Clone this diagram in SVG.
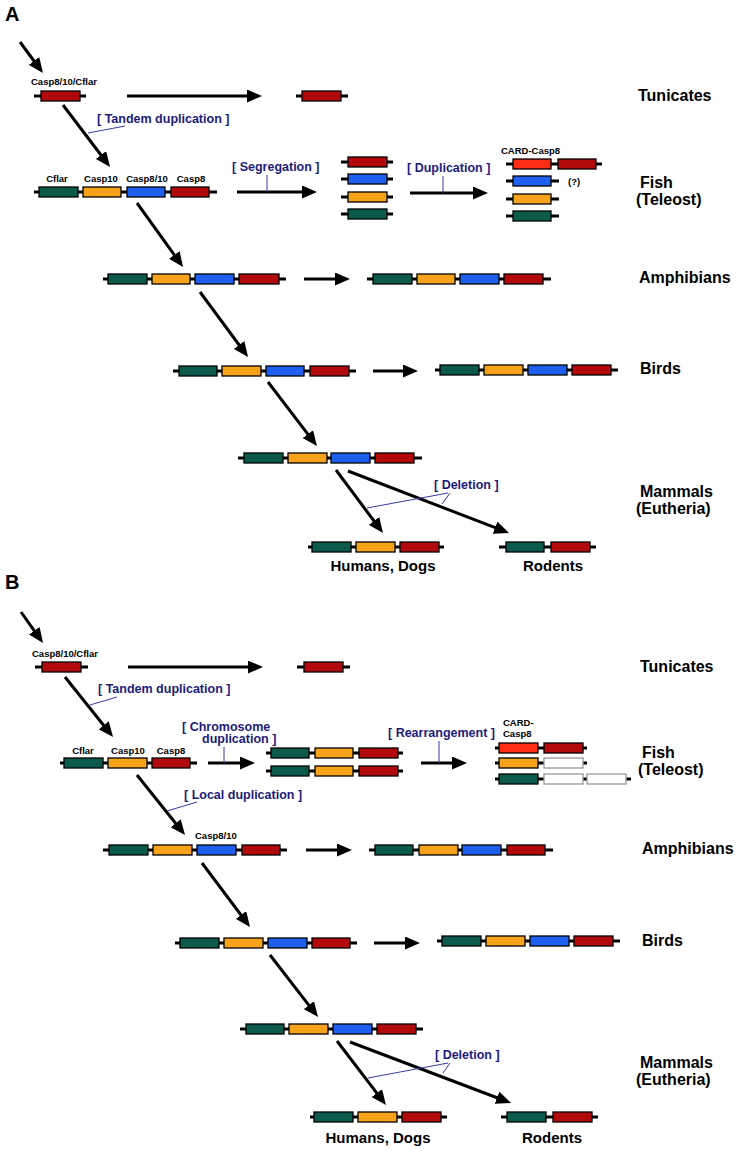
<svg xmlns="http://www.w3.org/2000/svg" width="739" height="1151" viewBox="0 0 739 1151">
<style>
text{font-family:"Liberation Sans",Arial,sans-serif;font-weight:bold;fill:#000}
.pl{font-size:20px}
.sp{font-size:16px}
.bt{font-size:15px;text-anchor:middle}
.gl{font-size:9.5px}
.gm{font-size:9.5px;text-anchor:middle}
.bl{font-size:12.5px;fill:#1c1c7c}
.ln{stroke:#000;stroke-width:3}
.bx rect{stroke:#000;stroke-width:1.3}
.g{fill:#0b5a4c}.o{fill:#f7a21b}.b{fill:#1f5fef}.r{fill:#b20a0a}.c{fill:#ff2d14}
.bx rect.w{fill:#fff;stroke:#999}
.ar{stroke:#000;stroke-width:3;fill:none;marker-end:url(#ah)}
.ld{stroke:#3a3aa8;stroke-width:1;fill:none}
</style>
<defs>
<marker id="ah" markerUnits="userSpaceOnUse" markerWidth="16" markerHeight="13" refX="5" refY="6.5" orient="auto">
<path d="M0,0 L15,6.5 L0,13 z" fill="#000"/>
</marker>
</defs>

<text class="pl" x="5" y="21">A</text>
<text class="pl" x="5" y="589">B</text>

<g id="labels">
<text class="sp" x="638" y="101">Tunicates</text>
<text class="sp" x="640" y="188">Fish</text>
<text class="sp" x="636" y="205">(Teleost)</text>
<text class="sp" x="639" y="283">Amphibians</text>
<text class="sp" x="640" y="374">Birds</text>
<text class="sp" x="640" y="497">Mammals</text>
<text class="sp" x="636" y="514">(Eutheria)</text>
<text class="sp" x="640" y="672">Tunicates</text>
<text class="sp" x="642" y="758">Fish</text>
<text class="sp" x="638" y="775">(Teleost)</text>
<text class="sp" x="642" y="854">Amphibians</text>
<text class="sp" x="642" y="946">Birds</text>
<text class="sp" x="640" y="1068">Mammals</text>
<text class="sp" x="636" y="1085">(Eutheria)</text>
</g>

<g id="connectors">
<line class="ar" x1="20" y1="42" x2="37" y2="65"/>
<line class="ar" x1="127" y1="96" x2="252" y2="96"/>
<line class="ar" x1="63" y1="105" x2="104" y2="159"/>
<line class="ar" x1="237" y1="192" x2="307" y2="192"/>
<line class="ar" x1="410" y1="193" x2="478" y2="193"/>
<line class="ar" x1="137" y1="203" x2="177.2" y2="258.9"/>
<line class="ar" x1="304" y1="279" x2="340" y2="279"/>
<line class="ar" x1="200" y1="292" x2="242.1" y2="349"/>
<line class="ar" x1="373" y1="371" x2="408" y2="371"/>
<line class="ar" x1="268" y1="382" x2="310.9" y2="438.1"/>
<line class="ar" x1="336" y1="470" x2="377" y2="525"/>
<line class="ar" x1="348" y1="471" x2="499.7" y2="529.4"/>

<line class="ar" x1="21" y1="612" x2="37.2" y2="634.8"/>
<line class="ar" x1="128" y1="667" x2="253" y2="667"/>
<line class="ar" x1="65" y1="677" x2="106.8" y2="729.2"/>
<line class="ar" x1="208" y1="763" x2="245" y2="763"/>
<line class="ar" x1="421" y1="763" x2="457" y2="763"/>
<line class="ar" x1="137" y1="775" x2="178.8" y2="827.2"/>
<line class="ar" x1="306" y1="850" x2="342" y2="850"/>
<line class="ar" x1="202" y1="863" x2="244" y2="919"/>
<line class="ar" x1="374" y1="943" x2="410" y2="943"/>
<line class="ar" x1="270" y1="955" x2="311.9" y2="1009.1"/>
<line class="ar" x1="337" y1="1041" x2="379.9" y2="1097.1"/>
<line class="ar" x1="350" y1="1042" x2="501.7" y2="1099.5"/>

<line class="ld" x1="88" y1="133" x2="125" y2="126"/>
<line class="ld" x1="267" y1="175" x2="267" y2="192"/>
<line class="ld" x1="443" y1="176" x2="443" y2="193"/>
<line class="ld" x1="367" y1="508" x2="448" y2="493"/>
<line class="ld" x1="442" y1="504" x2="450" y2="493"/>

<line class="ld" x1="90" y1="705" x2="117" y2="697"/>
<line class="ld" x1="224" y1="747" x2="224" y2="763"/>
<line class="ld" x1="439" y1="741" x2="439" y2="763"/>
<line class="ld" x1="167" y1="811" x2="197" y2="802"/>
<line class="ld" x1="368" y1="1078" x2="448" y2="1063"/>
<line class="ld" x1="443" y1="1073" x2="450" y2="1063"/>
</g>

<g id="annotations">
<text class="bl" x="97" y="123">[ Tandem duplication ]</text>
<text class="bl" x="232" y="171">[ Segregation ]</text>
<text class="bl" x="407" y="172">[ Duplication ]</text>
<text class="bl" x="434" y="489">[ Deletion ]</text>
<text class="bl" x="98" y="693">[ Tandem duplication ]</text>
<text class="bl" x="182" y="731">[ Chromosome</text>
<text class="bl" x="202" y="743">duplication ]</text>
<text class="bl" x="388" y="737">[ Rearrangement ]</text>
<text class="bl" x="184" y="799">[ Local duplication ]</text>
<text class="bl" x="435" y="1059">[ Deletion ]</text>
</g>

<!-- Panel A -->
<g id="A-tun-ancestor" class="bx">
<text class="gm" x="64" y="85">Casp8/10/Cflar</text>
<line class="ln" x1="34" y1="96" x2="86" y2="96"/>
<rect class="r" x="41" y="91" width="39" height="10"/>
</g>
<g id="A-tun" class="bx">
<line class="ln" x1="296" y1="96" x2="348" y2="96"/>
<rect class="r" x="302" y="91" width="39" height="10"/>
</g>
<g id="A-fish-cluster" class="bx">
<text class="gm" x="57" y="182">Cflar</text>
<text class="gm" x="101" y="182">Casp10</text>
<text class="gm" x="147" y="182">Casp8/10</text>
<text class="gm" x="191" y="182">Casp8</text>
<line class="ln" x1="34" y1="192" x2="217" y2="192"/>
<rect class="g" x="39" y="187" width="39" height="10"/>
<rect class="o" x="83" y="187" width="38" height="10"/>
<rect class="b" x="127" y="187" width="38" height="10"/>
<rect class="r" x="171" y="187" width="38" height="10"/>
</g>
<g id="A-fish-seg" class="bx">
<line class="ln" x1="341" y1="162" x2="393" y2="162"/>
<rect class="r" x="348" y="157" width="39" height="10"/>
<line class="ln" x1="341" y1="179" x2="393" y2="179"/>
<rect class="b" x="348" y="174" width="39" height="10"/>
<line class="ln" x1="341" y1="197" x2="393" y2="197"/>
<rect class="o" x="348" y="192" width="39" height="10"/>
<line class="ln" x1="341" y1="214" x2="393" y2="214"/>
<rect class="g" x="348" y="209" width="39" height="10"/>
</g>
<g id="A-fish-dup" class="bx">
<text class="gl" x="501" y="154">CARD-Casp8</text>
<line class="ln" x1="506" y1="164" x2="602" y2="164"/>
<rect class="c" x="513" y="159" width="38" height="10"/>
<rect class="r" x="558" y="159" width="38" height="10"/>
<line class="ln" x1="506" y1="181" x2="559" y2="181"/>
<rect class="b" x="513" y="176" width="38" height="10"/>
<text class="gl" x="568" y="185">(?)</text>
<line class="ln" x1="506" y1="199" x2="559" y2="199"/>
<rect class="o" x="513" y="194" width="38" height="10"/>
<line class="ln" x1="506" y1="216" x2="559" y2="216"/>
<rect class="g" x="513" y="211" width="38" height="10"/>
</g>
<g id="A-amph-anc" class="bx">
<line class="ln" x1="103" y1="279" x2="286" y2="279"/>
<rect class="g" x="108" y="274" width="39" height="10"/>
<rect class="o" x="152" y="274" width="38" height="10"/>
<rect class="b" x="195" y="274" width="39" height="10"/>
<rect class="r" x="239" y="274" width="40" height="10"/>
</g>
<g id="A-amph" class="bx">
<line class="ln" x1="367" y1="279" x2="551" y2="279"/>
<rect class="g" x="373" y="274" width="39" height="10"/>
<rect class="o" x="417" y="274" width="38" height="10"/>
<rect class="b" x="460" y="274" width="39" height="10"/>
<rect class="r" x="504" y="274" width="39" height="10"/>
</g>
<g id="A-bird-anc" class="bx">
<line class="ln" x1="173" y1="371" x2="356" y2="371"/>
<rect class="g" x="179" y="366" width="38" height="10"/>
<rect class="o" x="222" y="366" width="39" height="10"/>
<rect class="b" x="266" y="366" width="38" height="10"/>
<rect class="r" x="310" y="366" width="39" height="10"/>
</g>
<g id="A-bird" class="bx">
<line class="ln" x1="435" y1="370" x2="618" y2="370"/>
<rect class="g" x="440" y="365" width="39" height="10"/>
<rect class="o" x="484" y="365" width="39" height="10"/>
<rect class="b" x="528" y="365" width="39" height="10"/>
<rect class="r" x="572" y="365" width="39" height="10"/>
</g>
<g id="A-mammal" class="bx">
<line class="ln" x1="238" y1="458" x2="422" y2="458"/>
<rect class="g" x="244" y="453" width="39" height="10"/>
<rect class="o" x="288" y="453" width="39" height="10"/>
<rect class="b" x="331" y="453" width="39" height="10"/>
<rect class="r" x="375" y="453" width="39" height="10"/>
</g>
<g id="A-humans" class="bx">
<line class="ln" x1="308" y1="547" x2="444" y2="547"/>
<rect class="g" x="312" y="542" width="39" height="10"/>
<rect class="o" x="356" y="542" width="39" height="10"/>
<rect class="r" x="400" y="542" width="39" height="10"/>
<text class="bt" x="383" y="571">Humans, Dogs</text>
</g>
<g id="A-rodents" class="bx">
<line class="ln" x1="499" y1="547" x2="596" y2="547"/>
<rect class="g" x="506" y="542" width="38" height="10"/>
<rect class="r" x="551" y="542" width="39" height="10"/>
<text class="bt" x="553" y="571">Rodents</text>
</g>

<!-- Panel B -->
<g id="B-tun-ancestor" class="bx">
<text class="gm" x="65" y="657">Casp8/10/Cflar</text>
<line class="ln" x1="35" y1="667" x2="88" y2="667"/>
<rect class="r" x="42" y="662" width="39" height="10"/>
</g>
<g id="B-tun" class="bx">
<line class="ln" x1="297" y1="667" x2="350" y2="667"/>
<rect class="r" x="304" y="662" width="39" height="10"/>
</g>
<g id="B-fish-cluster" class="bx">
<text class="gm" x="83" y="754">Cflar</text>
<text class="gm" x="128" y="754">Casp10</text>
<text class="gm" x="171" y="754">Casp8</text>
<line class="ln" x1="60" y1="763" x2="197" y2="763"/>
<rect class="g" x="64" y="758" width="39" height="10"/>
<rect class="o" x="108" y="758" width="39" height="10"/>
<rect class="r" x="152" y="758" width="38" height="10"/>
</g>
<g id="B-fish-dup" class="bx">
<line class="ln" x1="266" y1="753" x2="403" y2="753"/>
<rect class="g" x="271" y="748" width="38" height="10"/>
<rect class="o" x="315" y="748" width="38" height="10"/>
<rect class="r" x="359" y="748" width="39" height="10"/>
<line class="ln" x1="266" y1="771" x2="403" y2="771"/>
<rect class="g" x="271" y="766" width="38" height="10"/>
<rect class="o" x="315" y="766" width="38" height="10"/>
<rect class="r" x="359" y="766" width="39" height="10"/>
</g>
<g id="B-fish-rear" class="bx">
<text class="gl" x="503" y="726">CARD-</text>
<text class="gl" x="503" y="737">Casp8</text>
<line class="ln" x1="495" y1="748" x2="587" y2="748"/>
<rect class="c" x="499" y="743" width="39" height="10"/>
<rect class="r" x="544" y="743" width="39" height="10"/>
<line class="ln" x1="495" y1="763" x2="587" y2="763"/>
<rect class="o" x="499" y="758" width="39" height="10"/>
<rect class="w" x="544" y="758" width="39" height="10"/>
<line class="ln" x1="495" y1="779" x2="631" y2="779"/>
<rect class="g" x="499" y="774" width="39" height="10"/>
<rect class="w" x="544" y="774" width="39" height="10"/>
<rect class="w" x="587" y="774" width="39" height="10"/>
</g>
<g id="B-amph-anc" class="bx">
<text class="gl" x="195" y="839">Casp8/10</text>
<line class="ln" x1="103" y1="850" x2="287" y2="850"/>
<rect class="g" x="109" y="845" width="39" height="10"/>
<rect class="o" x="153" y="845" width="39" height="10"/>
<rect class="b" x="197" y="845" width="39" height="10"/>
<rect class="r" x="242" y="845" width="38" height="10"/>
</g>
<g id="B-amph" class="bx">
<line class="ln" x1="369" y1="850" x2="553" y2="850"/>
<rect class="g" x="375" y="845" width="38" height="10"/>
<rect class="o" x="419" y="845" width="39" height="10"/>
<rect class="b" x="462" y="845" width="39" height="10"/>
<rect class="r" x="507" y="845" width="38" height="10"/>
</g>
<g id="B-bird-anc" class="bx">
<line class="ln" x1="175" y1="943" x2="357" y2="943"/>
<rect class="g" x="180" y="938" width="39" height="10"/>
<rect class="o" x="224" y="938" width="39" height="10"/>
<rect class="b" x="268" y="938" width="39" height="10"/>
<rect class="r" x="312" y="938" width="38" height="10"/>
</g>
<g id="B-bird" class="bx">
<line class="ln" x1="437" y1="941" x2="620" y2="941"/>
<rect class="g" x="442" y="936" width="39" height="10"/>
<rect class="o" x="486" y="936" width="39" height="10"/>
<rect class="b" x="530" y="936" width="39" height="10"/>
<rect class="r" x="574" y="936" width="39" height="10"/>
</g>
<g id="B-mammal" class="bx">
<line class="ln" x1="240" y1="1029" x2="423" y2="1029"/>
<rect class="g" x="246" y="1024" width="38" height="10"/>
<rect class="o" x="289" y="1024" width="39" height="10"/>
<rect class="b" x="333" y="1024" width="39" height="10"/>
<rect class="r" x="377" y="1024" width="39" height="10"/>
</g>
<g id="B-humans" class="bx">
<line class="ln" x1="310" y1="1117" x2="447" y2="1117"/>
<rect class="g" x="314" y="1112" width="39" height="10"/>
<rect class="o" x="358" y="1112" width="39" height="10"/>
<rect class="r" x="402" y="1112" width="39" height="10"/>
<text class="bt" x="378" y="1143">Humans, Dogs</text>
</g>
<g id="B-rodents" class="bx">
<line class="ln" x1="501" y1="1117" x2="598" y2="1117"/>
<rect class="g" x="507" y="1112" width="39" height="10"/>
<rect class="r" x="553" y="1112" width="39" height="10"/>
<text class="bt" x="552" y="1143">Rodents</text>
</g>
</svg>
